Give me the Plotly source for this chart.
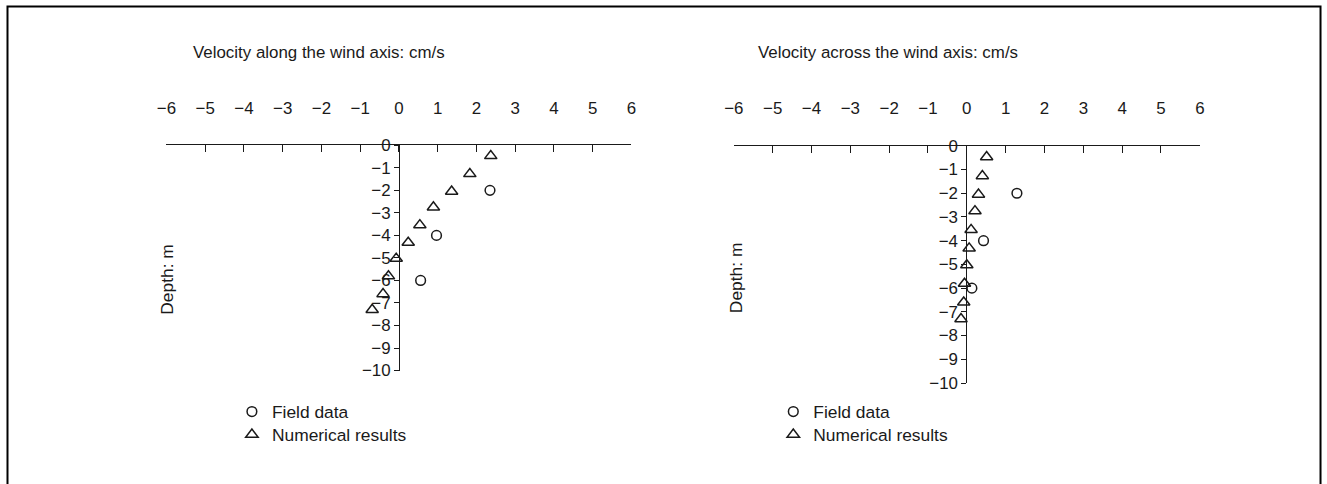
import plotly.graph_objects as go

W, H = 1327, 484

# The photograph maps page pixels to picture pixels as
#   picture_x = 0.988 * page_x + 8.5 ,  picture_y = 0.962 * page_y + 8.5
# so target picture positions are converted back to page positions.
SX, SY, OX, OY = 0.988, 0.962, 8.5, 8.5

# ---- data ----
x_ticks = [-6, -5, -4, -3, -2, -1, 0, 1, 2, 3, 4, 5, 6]
y_ticks = [0, -1, -2, -3, -4, -5, -6, -7, -8, -9, -10]

field_depth = [-2.0, -4.0, -6.0]
along_field = [2.35, 0.97, 0.56]
across_field = [1.29, 0.43, 0.13]

num_depth = [-0.47, -1.27, -2.05, -2.75, -3.54, -4.32, -5.03, -5.81, -6.6, -7.3]
along_num = [2.37, 1.83, 1.36, 0.89, 0.54, 0.24, -0.07, -0.27, -0.41, -0.69]
across_num = [0.51, 0.40, 0.30, 0.21, 0.11, 0.06, 0.0, -0.06, -0.08, -0.15]

title_left = "Velocity along the wind axis: cm/s"
title_right = "Velocity across the wind axis: cm/s"
ylabel = "Depth: m"
legend_names = ["Field data", "Numerical results"]

FONT = "Liberation Sans, Arial, Helvetica, sans-serif"
INK = "#1a1a1a"
TS = 16.9
LS = 17.4


def fx(t):
    return (t - OX) / SX


def fy(t):
    return (t - OY) / SY


def px(t):
    return fx(t) / W


def py(t):
    return 1 - fy(t) / H


fig = go.Figure()

mk_c = dict(symbol="circle-open", size=9.7, color=INK, line=dict(width=1.5, color=INK))
mk_t = dict(symbol="triangle-up-open", size=10.8, color=INK, line=dict(width=1.5, color=INK))

fig.add_trace(go.Scatter(x=along_field, y=field_depth, mode="markers", marker=mk_c,
                         name=legend_names[0], xaxis="x", yaxis="y", legend="legend", cliponaxis=False))
fig.add_trace(go.Scatter(x=along_num, y=num_depth, mode="markers", marker=mk_t,
                         name=legend_names[1], xaxis="x", yaxis="y", legend="legend2", cliponaxis=False))
fig.add_trace(go.Scatter(x=across_field, y=field_depth, mode="markers", marker=mk_c,
                         name=legend_names[0], xaxis="x2", yaxis="y2", legend="legend3", cliponaxis=False))
fig.add_trace(go.Scatter(x=across_num, y=num_depth, mode="markers", marker=mk_t,
                         name=legend_names[1], xaxis="x2", yaxis="y2", legend="legend4", cliponaxis=False))


def xax(dom, anchor):
    return dict(domain=dom, range=[-6, 6], side="top", anchor=anchor,
                tickmode="array", tickvals=x_ticks, ticks="inside", ticklen=7,
                tickcolor=INK, tickwidth=1, showline=True, linecolor=INK, linewidth=1,
                showgrid=False, zeroline=False, ticklabelstandoff=24,
                tickfont=dict(family=FONT, size=TS, color=INK), fixedrange=True)


def yax(dom, pos):
    return dict(domain=dom, range=[-10, 0], anchor="free", position=pos,
                tickmode="array", tickvals=y_ticks, ticks="outside", ticklen=5,
                tickcolor=INK, tickwidth=1, showline=True, linecolor=INK, linewidth=1,
                showgrid=False, zeroline=False,
                tickfont=dict(family=FONT, size=TS, color=INK), fixedrange=True)


def leg(mx, my):
    # marker centre (mx, my) in picture pixels
    lx = fx(mx) - 21
    ly = fy(my) - 19
    return dict(x=lx / W, y=1 - ly / H, xanchor="left", yanchor="top",
                bgcolor="rgba(0,0,0,0)", itemwidth=30, tracegroupgap=0,
                font=dict(family=FONT, size=LS, color=INK))


fig.update_layout(
    width=W, height=H,
    margin=dict(l=0, r=0, t=0, b=0),
    paper_bgcolor="white", plot_bgcolor="rgba(0,0,0,0)",
    font=dict(family=FONT, size=TS, color=INK),
    xaxis=xax([px(164.8), px(629.5)], "y"),
    yaxis=yax([py(370.5), py(145)], px(397.2)),
    xaxis2=xax([px(731.8), px(1197.5)], "y2"),
    yaxis2=yax([py(383), py(145.5)], px(964.2)),
    legend=leg(251, 412),
    legend2=leg(251, 435),
    legend3=leg(792, 412),
    legend4=leg(792, 435),
    showlegend=True,
)

fig.add_annotation(x=px(189.5), y=py(52), xref="paper", yref="paper", text=title_left,
                   showarrow=False, xanchor="left", yanchor="middle",
                   font=dict(family=FONT, size=TS, color=INK))
fig.add_annotation(x=px(753.5), y=py(52), xref="paper", yref="paper", text=title_right,
                   showarrow=False, xanchor="left", yanchor="middle",
                   font=dict(family=FONT, size=TS, color=INK))
fig.add_annotation(x=px(166), y=py(279), xref="paper", yref="paper", text=ylabel,
                   showarrow=False, textangle=-90, xanchor="center", yanchor="middle",
                   font=dict(family=FONT, size=LS, color=INK))
fig.add_annotation(x=px(734), y=py(278), xref="paper", yref="paper", text=ylabel,
                   showarrow=False, textangle=-90, xanchor="center", yanchor="middle",
                   font=dict(family=FONT, size=LS, color=INK))

# outer frame (bottom edge lies below the picture; right edge kept inside the page)
fig.add_shape(type="rect", xref="paper", yref="paper",
              x0=px(6), x1=(W - 1.5) / W, y0=py(500), y1=py(6),
              line=dict(color="black", width=2), fillcolor="rgba(0,0,0,0)", layer="below")

fig.write_html(
    "out.html",
    config={"displayModeBar": False},
    post_script="document.documentElement.style.margin='0';document.documentElement.style.overflow='hidden';"
                "document.body.style.margin='0';document.body.style.padding='0';document.body.style.overflow='hidden';",
)
